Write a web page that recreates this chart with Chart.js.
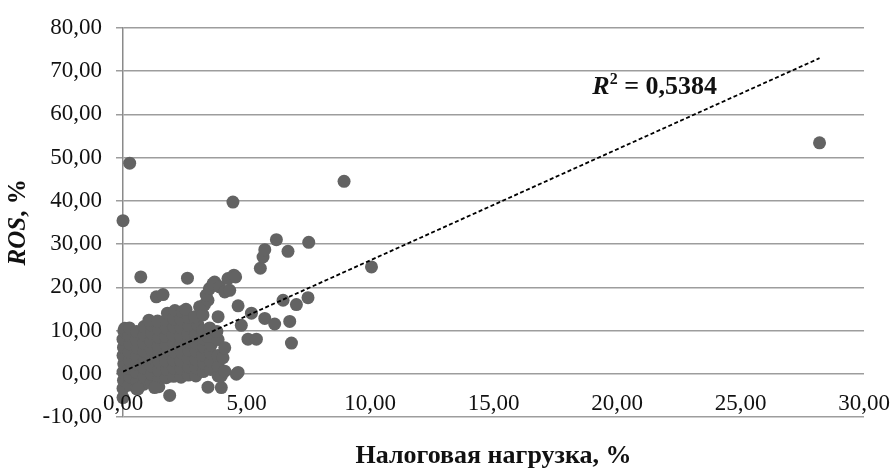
<!DOCTYPE html>
<html lang="ru">
<head>
<meta charset="UTF-8">
<title>ROS и налоговая нагрузка</title>
<script src="https://cdn.jsdelivr.net/npm/chart.js"></script>
<style>
  html, body { margin: 0; padding: 0; background: #fff; }
  #chart { display: block; }
</style>
</head>
<body>
<canvas id="chart" width="894" height="468"></canvas>
<script>
// Предприятия: [налоговая нагрузка, %; ROS, %]
const firms = [
  // основная масса наблюдений
  [0.00,-5.5],[0.00,-3.4],[0.02,-1.5],[0.00,0.4],[0.03,2.3],[0.00,4.2],[0.02,6.1],[0.00,8.0],[0.03,9.9],[0.07,10.5],
  [0.25,-2.6],[0.27,-0.7],[0.24,1.2],[0.26,3.1],[0.25,5.0],[0.28,6.9],[0.24,8.8],[0.26,10.6],
  [0.55,-3.5],[0.57,-1.6],[0.54,0.3],[0.56,2.2],[0.55,4.1],[0.58,6.0],[0.54,7.9],[0.55,9.8],
  [0.85,-2.4],[0.86,-0.5],[0.84,1.4],[0.87,3.3],[0.85,5.2],[0.83,7.1],[0.86,9.0],[0.85,10.9],
  [1.15,-2.0],[1.16,-0.1],[1.14,1.8],[1.17,3.7],[1.15,5.6],[1.13,7.5],[1.16,9.4],[1.15,11.3],[1.05,12.4],
  [1.45,-3.0],[1.46,-1.1],[1.44,0.8],[1.47,2.7],[1.45,4.6],[1.43,6.5],[1.46,8.4],[1.45,10.3],[1.40,12.2],
  [1.75,-0.9],[1.76,1.0],[1.74,2.9],[1.77,4.8],[1.75,6.7],[1.73,8.6],[1.76,10.5],[1.75,12.4],[1.80,14.0],
  [2.05,-0.6],[2.06,1.3],[2.04,3.2],[2.07,5.1],[2.05,7.0],[2.03,8.9],[2.06,10.8],[2.05,12.7],[2.10,14.6],
  [2.35,-0.8],[2.36,1.1],[2.34,3.0],[2.37,4.9],[2.35,6.8],[2.33,8.7],[2.36,10.6],[2.35,12.5],[2.40,14.4],
  [2.65,-0.3],[2.66,1.6],[2.64,3.5],[2.67,5.4],[2.65,7.3],[2.63,9.2],[2.66,11.1],[2.65,13.0],[2.55,14.9],
  [2.95,-0.5],[2.96,1.4],[2.94,3.3],[2.97,5.2],[2.95,7.1],[2.93,9.0],[3.04,11.3],[2.90,13.2],[3.10,15.5],
  [3.25,0.5],[3.26,2.4],[3.24,4.3],[3.27,6.2],[3.25,8.1],[3.23,10.0],[3.24,13.6],[3.30,16.0],
  [3.55,1.0],[3.56,2.9],[3.54,4.8],[3.57,6.7],[3.44,8.6],[3.51,10.6],[3.44,17.0],
  [3.85,-0.5],[3.86,1.7],[3.84,4.2],[3.85,7.9],[3.80,9.8],[3.85,13.2],
  // нижний край и правая часть скопления
  [1.89,-5.0],[1.28,-3.2],[0.61,-3.5],[3.44,-3.1],[3.98,-3.2],[3.98,-0.5],[4.12,0.6],[4.05,3.7],[4.12,6.0],
  [4.59,-0.1],[4.66,0.3],
  // верхний край
  [0.72,22.4],[2.61,22.1],[1.35,17.8],[1.62,18.3],[3.37,18.2],[3.50,19.7],[3.71,21.2],[3.64,20.8],
  [3.91,20.1],[4.12,18.9],[4.25,22.0],[4.49,22.8],[4.56,22.4],[4.32,19.3],[4.66,15.7],[4.79,11.2],
  [5.20,14.0],[5.74,12.8],[6.14,11.5],[6.75,12.1],[5.06,8.0],[5.40,8.0],[6.82,7.1],[6.48,17.0],
  [7.02,16.0],[7.49,17.6],[5.56,24.4],[5.67,27.0],[5.74,28.7],[6.21,31.0],[6.68,28.3],[7.52,30.4],
  [10.06,24.7],
  // выбросы
  [0.00,35.4],[4.45,39.7],[0.27,48.7],[8.95,44.5],[28.2,53.4]
];

const xTicks = [0, 5, 10, 15, 20, 25, 30];
const yTicks = [-10, 0, 10, 20, 30, 40, 50, 60, 70, 80];

// Линейный тренд и коэффициент детерминации
const trendSlope = 2.57;
const trendIntercept = 0.5;
const rSquared = 0.5384;

const serif = '"Liberation Serif", "Times New Roman", serif';
const fmt = v => v.toFixed(2).replace('.', ',');

const xs = firms.map(p => p[0]);
const trendFrom = Math.min(...xs);
const trendTo = Math.max(...xs);

const titles = {
  id: 'titles',
  afterDraw(chart) {
    const ctx = chart.ctx;
    const sx = chart.scales.x, sy = chart.scales.y;
    const area = chart.chartArea;
    ctx.save();
    ctx.fillStyle = '#111';

    // подписи делений оси X (над линией оси, как в Excel)
    ctx.font = '23px ' + serif;
    ctx.textAlign = 'center';
    ctx.textBaseline = 'middle';
    xTicks.forEach(v => ctx.fillText(fmt(v), sx.getPixelForValue(v), area.bottom - 13));

    // подпись оси X
    ctx.font = 'bold 26px ' + serif;
    ctx.fillText('Налоговая нагрузка, %', (area.left + area.right) / 2, 456);

    // подпись оси Y: ROS курсивом
    ctx.save();
    ctx.translate(19, (area.top + area.bottom) / 2);
    ctx.rotate(-Math.PI / 2);
    ctx.textAlign = 'left';
    const a = 'ROS', b = ', %';
    ctx.font = 'italic bold 25px ' + serif;
    const wa = ctx.measureText(a).width;
    ctx.font = 'bold 25px ' + serif;
    const wb = ctx.measureText(b).width;
    const x0 = -(wa + wb) / 2;
    ctx.font = 'italic bold 25px ' + serif;
    ctx.fillText(a, x0, 0);
    ctx.font = 'bold 25px ' + serif;
    ctx.fillText(b, x0 + wa, 0);
    ctx.restore();

    // R² у линии тренда
    let px = sx.getPixelForValue(19.0);
    const py = sy.getPixelForValue(64.7);
    ctx.textAlign = 'left';
    ctx.textBaseline = 'alphabetic';
    ctx.font = 'italic bold 26px ' + serif;
    ctx.fillText('R', px, py);
    px += ctx.measureText('R').width;
    ctx.font = 'bold 16px ' + serif;
    ctx.fillText('2', px, py - 10);
    px += ctx.measureText('2').width;
    ctx.font = 'bold 26px ' + serif;
    ctx.fillText(' = ' + rSquared.toFixed(4).replace('.', ','), px, py);
    ctx.restore();
  }
};

new Chart(document.getElementById('chart'), {
  type: 'scatter',
  data: {
    datasets: [
      {
        type: 'line',
        data: [
          { x: trendFrom, y: trendIntercept + trendSlope * trendFrom },
          { x: trendTo, y: trendIntercept + trendSlope * trendTo }
        ],
        borderColor: '#000',
        borderWidth: 1.8,
        borderDash: [4, 2.5],
        pointRadius: 0,
        fill: false,
        order: 0
      },
      {
        data: firms.map(p => ({ x: p[0], y: p[1] })),
        backgroundColor: '#636363',
        borderWidth: 0,
        pointRadius: 6.5,
        pointHoverRadius: 6.5,
        clip: false,
        order: 1
      }
    ]
  },
  options: {
    responsive: false,
    animation: false,
    layout: { padding: { left: 0, right: 30, top: 23, bottom: 0 } },
    plugins: { legend: { display: false }, tooltip: { enabled: false } },
    scales: {
      x: {
        type: 'linear',
        min: 0,
        max: 30,
        afterBuildTicks: s => { s.ticks = xTicks.map(v => ({ value: v })); },
        afterFit: s => { s.height = 51; },
        grid: { display: false, drawTicks: false },
        border: { display: false },
        ticks: { display: false }
      },
      y: {
        min: -10,
        max: 80,
        afterBuildTicks: s => { s.ticks = yTicks.map(v => ({ value: v })); },
        afterFit: s => { s.width = 123; },
        grid: { color: '#9d9d9d', lineWidth: 1.5, tickLength: 7, drawTicks: true },
        border: { display: true, color: '#8a8a8a', width: 1.5 },
        ticks: {
          padding: 14,
          color: '#111',
          font: { family: serif, size: 23 },
          callback: v => fmt(v)
        }
      }
    }
  },
  plugins: [titles]
});
</script>
</body>
</html>
